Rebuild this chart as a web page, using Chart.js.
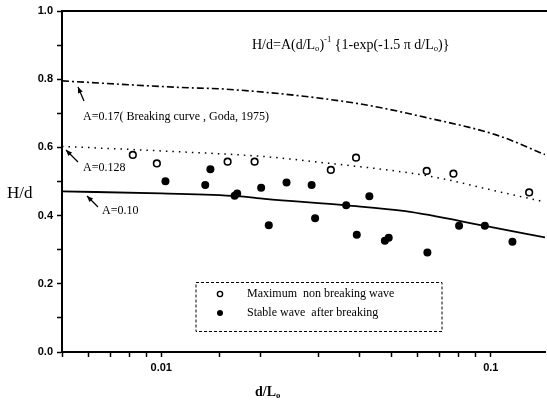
<!DOCTYPE html>
<html>
<head>
<meta charset="utf-8">
<script src="https://cdn.jsdelivr.net/npm/chart.js@4/dist/chart.umd.min.js"></script>
<style>
  html, body { margin: 0; padding: 0; background: #fff; }
  #wrap { position: relative; width: 547px; height: 410px; }
</style>
</head>
<body>
<div id="wrap"><canvas id="chart"></canvas></div>
<script>
// values (x = d/L0, y = H/d)
const openX = [0.0082, 0.0097, 0.0159, 0.0192, 0.0327, 0.039, 0.0639, 0.077, 0.1307];
const openY = [0.578, 0.553, 0.558, 0.558, 0.534, 0.570, 0.531, 0.523, 0.468];

const filledX = [0.0103, 0.0136, 0.0141, 0.0167, 0.0170, 0.0201, 0.0212, 0.0240, 0.0286, 0.0293,
                 0.0364, 0.0392, 0.0428, 0.0477, 0.0490, 0.0642, 0.0801, 0.0959, 0.1163];
const filledY = [0.501, 0.490, 0.536, 0.458, 0.465, 0.482, 0.372, 0.497, 0.490, 0.392,
                 0.430, 0.344, 0.457, 0.326, 0.335, 0.292, 0.370, 0.370, 0.323];

const curve17X = [0.005, 0.0113, 0.0162, 0.0392, 0.0654, 0.1043, 0.146];
const curve17Y = [0.795, 0.776, 0.770, 0.729, 0.685, 0.636, 0.579];

const curve128X = [0.005, 0.0114, 0.0206, 0.0325, 0.0549, 0.0733, 0.0984, 0.146];
const curve128Y = [0.603, 0.587, 0.573, 0.553, 0.527, 0.506, 0.477, 0.440];

const curve10X = [0.005, 0.01, 0.017, 0.0206, 0.0364, 0.055, 0.096, 0.146];
const curve10Y = [0.471, 0.465, 0.457, 0.449, 0.430, 0.413, 0.370, 0.336];

const xLabels = ['0.01', '0.1'];
const yLabels = ['0.0', '0.2', '0.4', '0.6', '0.8', '1.0'];

const legendNames = ['Maximum  non breaking wave', 'Stable wave  after breaking'];

const X_MIN = 0.005, X_MAX = 0.146;

function pts(xs, ys) {
    return xs.map((x, i) => ({ x: x, y: ys[i] }));
}

const serif = "'Liberation Serif', 'Times New Roman', serif";

// draws text pieces with sub/superscripts, left aligned
function rich(ctx, parts, x, y, size, weight) {
    ctx.textBaseline = 'middle';
    ctx.textAlign = 'left';
    parts.forEach(p => {
        const small = p.sub || p.sup;
        const fs = small ? size * 0.62 : size;
        ctx.font = (weight || '') + ' ' + fs + 'px ' + serif;
        const dy = p.sub ? size * 0.28 : p.sup ? -size * 0.35 : 0;
        ctx.fillText(p.t, x, y + dy);
        x += ctx.measureText(p.t).width;
    });
}

function arrow(ctx, x1, y1, x2, y2) {
    ctx.save();
    ctx.strokeStyle = '#000';
    ctx.fillStyle = '#000';
    ctx.lineWidth = 1.3;
    ctx.beginPath();
    ctx.moveTo(x1, y1);
    ctx.lineTo(x2, y2);
    ctx.stroke();
    const ang = Math.atan2(y2 - y1, x2 - x1);
    const len = 6, w = 2.6;
    ctx.beginPath();
    ctx.moveTo(x2, y2);
    ctx.lineTo(x2 - len * Math.cos(ang) + w * Math.sin(ang), y2 - len * Math.sin(ang) - w * Math.cos(ang));
    ctx.lineTo(x2 - len * Math.cos(ang) - w * Math.sin(ang), y2 - len * Math.sin(ang) + w * Math.cos(ang));
    ctx.closePath();
    ctx.fill();
    ctx.restore();
}

const decor = {
    id: 'decor',
    afterDraw(chart) {
        const ctx = chart.ctx;
        const a = chart.chartArea;
        ctx.save();
        ctx.fillStyle = '#000';

        // top frame line
        ctx.strokeStyle = '#000';
        ctx.lineWidth = 2;
        ctx.beginPath();
        ctx.moveTo(a.left, a.top);
        ctx.lineTo(chart.width, a.top);
        ctx.stroke();

        // formula
        rich(ctx, [
            { t: 'H/d=A(d/L' }, { t: 'o', sub: true }, { t: ')' }, { t: '-1', sup: true },
            { t: ' {1-exp(-1.5 \u03c0 d/L' }, { t: 'o', sub: true }, { t: ')}' }
        ], 252, 45, 14);

        // curve labels + arrows
        ctx.font = '12px ' + serif;
        ctx.textBaseline = 'middle';
        ctx.fillText('A=0.17( Breaking curve , Goda, 1975)', 83, 117);
        ctx.fillText('A=0.128', 83, 168);
        ctx.fillText('A=0.10', 102, 211);
        arrow(ctx, 84, 101, 78, 87);
        arrow(ctx, 78, 162, 66, 150);
        arrow(ctx, 98, 207, 87, 196);

        // axis titles
        rich(ctx, [{ t: 'H/d' }], 7, 194, 17);
        rich(ctx, [{ t: 'd/L' }, { t: 'o', sub: true }], 255, 392, 14, 'bold');

        // legend box
        ctx.setLineDash([3, 2]);
        ctx.lineWidth = 1;
        ctx.strokeRect(196, 282.5, 246, 49);
        ctx.setLineDash([]);
        ctx.beginPath();
        ctx.arc(220, 294, 2.6, 0, Math.PI * 2);
        ctx.lineWidth = 1.4;
        ctx.stroke();
        ctx.beginPath();
        ctx.arc(220, 313, 3, 0, Math.PI * 2);
        ctx.fill();
        ctx.font = '12px ' + serif;
        ctx.textBaseline = 'middle';
        ctx.fillText(legendNames[0], 247, 294);
        ctx.fillText(legendNames[1], 247, 313);

        ctx.restore();
    }
};

const tickFont = { family: "'Liberation Sans', Arial, sans-serif", size: 11, weight: 'bold' };

new Chart(document.getElementById('chart'), {
    type: 'scatter',
    data: {
        datasets: [
            {
                label: legendNames[0],
                data: pts(openX, openY),
                pointRadius: 3.3,
                pointBorderWidth: 1.6,
                pointBackgroundColor: '#fff',
                pointBorderColor: '#000',
                order: 0
            },
            {
                label: legendNames[1],
                data: pts(filledX, filledY),
                pointRadius: 4,
                pointBorderWidth: 0,
                pointBackgroundColor: '#000',
                pointBorderColor: '#000',
                order: 0
            },
            {
                label: 'A=0.17',
                data: pts(curve17X, curve17Y),
                showLine: true,
                pointRadius: 0,
                borderColor: '#000',
                borderWidth: 1.6,
                borderDash: [7, 3, 2, 3],
                cubicInterpolationMode: 'monotone',
                order: 1
            },
            {
                label: 'A=0.128',
                data: pts(curve128X, curve128Y),
                showLine: true,
                pointRadius: 0,
                borderColor: '#000',
                borderWidth: 1.5,
                borderDash: [1.5, 5],
                cubicInterpolationMode: 'monotone',
                order: 1
            },
            {
                label: 'A=0.10',
                data: pts(curve10X, curve10Y),
                showLine: true,
                pointRadius: 0,
                borderColor: '#000',
                borderWidth: 1.8,
                cubicInterpolationMode: 'monotone',
                order: 1
            }
        ]
    },
    options: {
        responsive: true,
        maintainAspectRatio: false,
        animation: false,
        layout: { autoPadding: false, padding: { top: 11, right: 2, left: 0, bottom: 0 } },
        plugins: {
            legend: { display: false },
            tooltip: { enabled: false }
        },
        scales: {
            x: {
                type: 'logarithmic',
                min: X_MIN,
                max: X_MAX,
                afterFit: s => { s.height = 58; s.paddingLeft = 0; s.paddingRight = 0; },
                border: { color: '#000', width: 2 },
                grid: {
                    drawOnChartArea: false,
                    color: '#000',
                    tickColor: c => (c.tick && c.tick.value >= X_MAX) ? 'rgba(0,0,0,0)' : '#000',
                    tickLength: 5,
                    tickWidth: 1.5
                },
                ticks: {
                    autoSkip: false,
                    maxRotation: 0,
                    padding: 4,
                    color: '#000',
                    font: tickFont,
                    callback: v => {
                        const e = Math.log10(v);
                        const i = xLabels.findIndex(l => Math.abs(Math.log10(parseFloat(l)) - e) < 1e-6);
                        return i >= 0 ? xLabels[i] : '';
                    }
                }
            },
            y: {
                min: 0,
                max: 1,
                afterFit: s => { s.width = 62; s.paddingTop = 0; s.paddingBottom = 0; },
                border: { color: '#000', width: 2 },
                grid: { drawOnChartArea: false, color: '#000', tickLength: 5, tickWidth: 1.5 },
                ticks: {
                    stepSize: 0.1,
                    autoSkip: false,
                    padding: 4,
                    color: '#000',
                    font: tickFont,
                    callback: v => {
                        const l = v.toFixed(1);
                        return yLabels.includes(l) ? l : '';
                    }
                }
            }
        }
    },
    plugins: [decor]
});
</script>
</body>
</html>
